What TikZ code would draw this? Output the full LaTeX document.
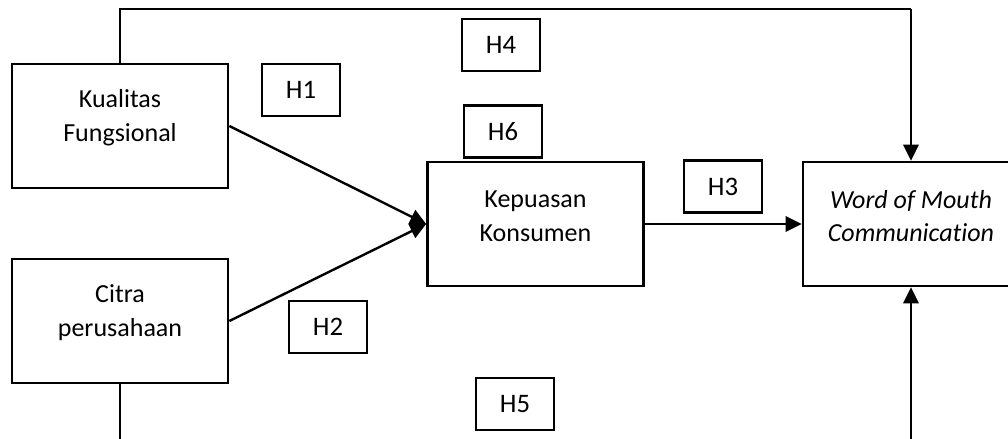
\documentclass[tikz,border=0pt]{standalone}
\usepackage{fontspec}
\setmainfont[Ligatures={NoCommon,NoContextual}]{Carlito}
\usepackage{tikz}
\usetikzlibrary{positioning}
\usetikzlibrary{calc}
\usetikzlibrary{arrows.meta}

\begin{document}
\begin{tikzpicture}[x=0.025cm, y=-0.025cm,
		varbox/.style={draw, line width=1.9pt, minimum width=5.4cm, minimum height=3.1cm, inner sep=0pt},
		vartext/.style={align=center, font=\fontsize{18.5}{24}\selectfont, inner sep=0pt},
		hbox/.style={draw, line width=1.9pt, minimum width=1.95cm, minimum height=1.3cm, font=\fontsize{19}{22}\selectfont, inner sep=0pt},
		arr/.style={line width=1.7pt, -{Triangle[length=0.4cm, width=0.38cm]}},
		thinline/.style={line width=0.85pt}]
	\useasboundingbox (0,0) rectangle (1008,439);
	\node[varbox] (kf) at (120,126) {};
	\node[varbox] (ci) at (120,321) {};
	\node[varbox] (kk) at (535.5,224) {};
	\node[varbox] (wom) at (911,224) {};
	\node[vartext] (kft) at ([yshift=0.2cm]kf.center) {Kualitas\\Fungsional};
	\node[vartext] (cit) at ([yshift=0.2cm]ci.center) {Citra\\perusahaan};
	\node[vartext] (kkt) at ([yshift=0.2cm]kk.center) {Kepuasan\\Konsumen};
	\node[vartext, font=\fontsize{18.5}{24}\selectfont\itshape] (womt) at ([yshift=0.2cm]wom.center) {Word of Mouth\\Communication};
	\node[hbox] (h1) at (301,90) {H1};
	\node[hbox] (h2) at (328,327) {H2};
	\node[hbox] (h3) at (723,186.5) {H3};
	\node[hbox] (h4) at (501,45) {H4};
	\node[hbox] (h5) at (515,404) {H5};
	\node[hbox] (h6) at (503,131.5) {H6};
	\coordinate (top) at (911,9);
	\coordinate (botl) at (120,460);
	\coordinate (botr) at (911,460);
	\draw[thinline] (kf.north) |- (top);
	\draw[arr] (top) -- (wom.north);
	\draw[arr] (kf.east) -- (kk.west);
	\draw[arr] (ci.east) -- (kk.west);
	\draw[arr] (kk.east) -- (wom.west);
	\draw[thinline] (ci.south) -- (botl);
	\draw[arr] (botr) -- (wom.south);
\end{tikzpicture}
\end{document}
